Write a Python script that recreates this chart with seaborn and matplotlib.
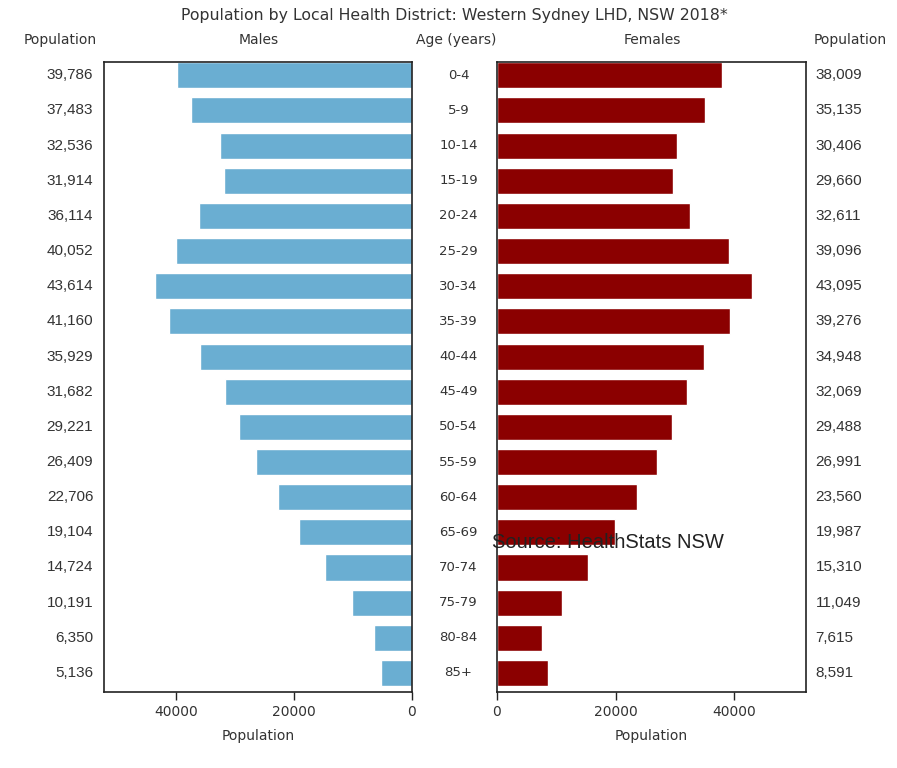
import numpy as np
import pandas as pd
import seaborn as sns
import matplotlib.pyplot as plt

ages = ["0-4", "5-9", "10-14", "15-19", "20-24", "25-29", "30-34", "35-39",
        "40-44", "45-49", "50-54", "55-59", "60-64", "65-69", "70-74",
        "75-79", "80-84", "85+"]
males = [39786, 37483, 32536, 31914, 36114, 40052, 43614, 41160, 35929,
         31682, 29221, 26409, 22706, 19104, 14724, 10191, 6350, 5136]
females = [38009, 35135, 30406, 29660, 32611, 39096, 43095, 39276, 34948,
           32069, 29488, 26991, 23560, 19987, 15310, 11049, 7615, 8591]
xticks = [0, 20000, 40000]

df = pd.DataFrame({"age": ages, "Males": males, "Females": females})

sns.set_theme(style="white")
plt.rcParams["font.family"] = ["DejaVu Sans"]
txt = "#333333"

fig = plt.figure(figsize=(8.97, 7.68), dpi=100)
axl = fig.add_axes([0.116, 0.099, 0.343, 0.82])
axr = fig.add_axes([0.554, 0.099, 0.345, 0.82])

sns.barplot(data=df, y="age", x="Males", orient="h", color="#6aaed2",
            saturation=1, width=0.74, ax=axl)
sns.barplot(data=df, y="age", x="Females", orient="h", color="#8b0000",
            saturation=1, width=0.74, ax=axr)

for ax in (axl, axr):
    ax.set_xlim(0, 52200)
    ax.set_ylim(len(ages) - 0.46, -0.37)
    ax.set_xticks(xticks)
    ax.set_xticklabels([str(t) for t in xticks], fontsize=10, color=txt)
    ax.set_yticks([])
    ax.set_ylabel("")
    ax.set_xlabel("Population", fontsize=10, color=txt, labelpad=7)
    ax.tick_params(axis="x", bottom=True, length=6, width=1, color="#222222",
                   direction="out")
    for s in ax.spines.values():
        s.set_color("#222222")
        s.set_linewidth(1.2)
axl.invert_xaxis()

num_font = ["Liberation Sans", "DejaVu Sans"]
for i, (a, m, f) in enumerate(zip(ages, males, females)):
    axl.text(-0.035, i, f"{m:,}", transform=axl.get_yaxis_transform(),
             ha="right", va="center", fontsize=11, color=txt, family=num_font)
    axl.text(1.152, i, a, transform=axl.get_yaxis_transform(),
             ha="center", va="center", fontsize=9.5, color=txt)
    axr.text(1.03, i, f"{f:,}", transform=axr.get_yaxis_transform(),
             ha="left", va="center", fontsize=11, color=txt, family=num_font)

fig.text(0.507, 0.98, "Population by Local Health District: Western Sydney LHD, NSW 2018*",
         ha="center", va="center", fontsize=11.3, color=txt)
hy = 0.948
fig.text(0.067, hy, "Population", ha="center", va="center", fontsize=10, color=txt)
fig.text(0.288, hy, "Males", ha="center", va="center", fontsize=10, color=txt)
fig.text(0.509, hy, "Age (years)", ha="center", va="center", fontsize=10, color=txt)
fig.text(0.727, hy, "Females", ha="center", va="center", fontsize=10, color=txt)
fig.text(0.948, hy, "Population", ha="center", va="center", fontsize=10, color=txt)

fig.text(0.548, 0.294, "Source: HealthStats NSW", ha="left", va="center",
         fontsize=14.5, color="#222222", family=["Liberation Sans"])

fig.savefig("out.png", dpi=100, facecolor="white")
